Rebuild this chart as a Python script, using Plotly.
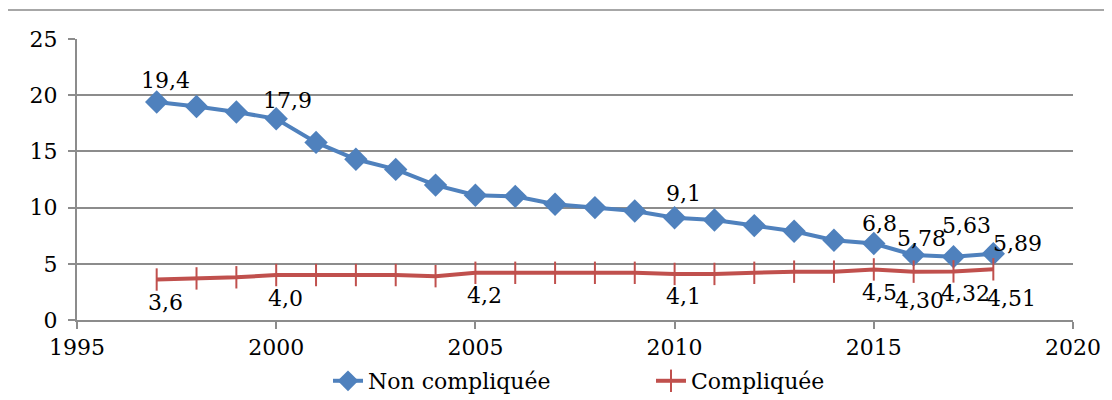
import plotly.graph_objects as go

# ---- data ----
years = list(range(1997, 2019))
non_compliquee = [19.4, 19.0, 18.5, 17.9, 15.8, 14.3, 13.4, 12.0, 11.1, 11.0, 10.3, 10.0, 9.7,
                  9.1, 8.9, 8.4, 7.9, 7.1, 6.8, 5.78, 5.63, 5.89]
compliquee = [3.6, 3.7, 3.8, 4.0, 4.0, 4.0, 4.0, 3.9, 4.2, 4.2, 4.2, 4.2, 4.2,
              4.1, 4.1, 4.2, 4.3, 4.3, 4.5, 4.30, 4.32, 4.51]
labels_nc = {1997: "19,4", 2000: "17,9", 2010: "9,1", 2015: "6,8", 2016: "5,78", 2017: "5,63", 2018: "5,89"}
labels_c = {1997: "3,6", 2000: "4,0", 2005: "4,2", 2010: "4,1", 2015: "4,5", 2016: "4,30", 2017: "4,32", 2018: "4,51"}
x_ticks = [1995, 2000, 2005, 2010, 2015, 2020]
y_ticks = [0, 5, 10, 15, 20, 25]

# ---- style ----
FONT = "DejaVu Serif"
FS = 22
BLUE = "#4F81BD"
RED = "#C0504D"
GRID = "#8c8c8c"
# label offsets in px (right, up) relative to the point
off_nc = {1997: (9, 19), 2000: (11, 16), 2010: (9, 22), 2015: (6, 18), 2016: (8, 15), 2017: (13, 29), 2018: (24, 8)}
off_c = {1997: (9, -25), 2000: (9, -25), 2005: (9, -25), 2010: (9, -25), 2015: (6, -25), 2016: (6, -31), 2017: (12, -24), 2018: (18, -31)}

fig = go.Figure()
fig.add_trace(go.Scatter(
    x=years, y=non_compliquee, name="Non compliquée", mode="lines+markers",
    line=dict(color=BLUE, width=4),
    marker=dict(symbol="diamond", size=18, color=BLUE),
))
fig.add_trace(go.Scatter(
    x=years, y=compliquee, name="Compliquée", mode="lines+markers",
    line=dict(color=RED, width=4),
    marker=dict(symbol="line-ns", size=16, color=RED, line=dict(color=RED, width=2)),
))

annotations = []
for series, labels, offs in ((non_compliquee, labels_nc, off_nc), (compliquee, labels_c, off_c)):
    for yr, val in zip(years, series):
        if yr in labels:
            dx, dy = offs[yr]
            annotations.append(dict(x=yr, y=val, xref="x", yref="y", text=labels[yr], showarrow=False,
                                    xanchor="center", yanchor="middle", xshift=dx, yshift=dy + 2,
                                    font=dict(family=FONT, size=FS, color="black")))

fig.add_shape(type="rect", xref="paper", yref="paper", x0=-0.0703, x1=1.06, y0=-0.4, y1=1.103,
              line=dict(color="#8a8a8a", width=1.5), fillcolor="rgba(0,0,0,0)", layer="below")

fig.update_layout(
    width=1104, height=392,
    margin=dict(l=69, r=39, t=31, b=80, autoexpand=False),
    paper_bgcolor="white", plot_bgcolor="white",
    font=dict(family=FONT, size=FS, color="black"),
    annotations=annotations,
    showlegend=True,
    legend=dict(orientation="h", x=0.252, xanchor="left", y=-0.217, yanchor="middle",
                font=dict(family=FONT, size=FS), tracegroupgap=0,
                entrywidth=278, entrywidthmode="pixels",
                bgcolor="rgba(0,0,0,0)"),
    xaxis=dict(range=[1995, 2020], tickvals=x_ticks, ticktext=[str(v) for v in x_ticks],
               showgrid=False, zeroline=False, showline=True, linecolor=GRID, linewidth=2,
               ticks="outside", ticklen=7, tickcolor=GRID, tickwidth=2, automargin=False,
               tickfont=dict(family=FONT, size=FS)),
    yaxis=dict(range=[0, 25], tickvals=y_ticks, ticktext=[str(v) for v in y_ticks],
               showgrid=True, gridcolor=GRID, gridwidth=1.5, zeroline=False,
               showline=True, linecolor=GRID, linewidth=2, automargin=False,
               ticks="outside", ticklen=7, tickcolor=GRID, tickwidth=2,
               ticklabelstandoff=6,
               tickfont=dict(family=FONT, size=FS)),
)
fig.write_html("out.html")
